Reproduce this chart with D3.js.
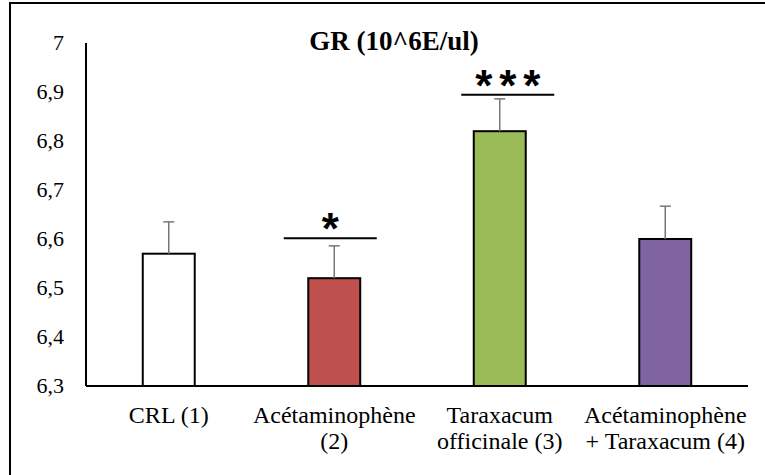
<!DOCTYPE html>
<html>
<head>
<meta charset="utf-8">
<script src="https://cdn.jsdelivr.net/npm/d3@7"></script>
<style>
  body { margin: 0; background: #fff; }
</style>
</head>
<body>
<div id="chart"></div>
<script>
const categories = [["CRL (1)"], ["Acétaminophène", "(2)"], ["Taraxacum", "officinale (3)"], ["Acétaminophène", "+ Taraxacum (4)"]];
const values = [6.57, 6.52, 6.82, 6.60];
const errors = [0.065, 0.066, 0.066, 0.067];
const colors = ["#ffffff", "#c0504d", "#9bbb59", "#8064a2"];
const yTicks = [6.3, 6.4, 6.5, 6.6, 6.7, 6.8, 6.9, 7];
const signif = [0, 1, 3, 0]; // number of stars over each bar
const title = "GR (10^6E/ul)";

// hand placement of the significance marks, as in the original
const sigShift = [null, { dx: -4, dy: -7.5 }, { dx: 8, dy: -4 }, null];

const width = 765, height = 475;
const svg = d3.select("#chart").append("svg")
  .attr("width", width).attr("height", height)
  .attr("font-family", "Liberation Serif");

// outer frame (right/bottom edges fall outside the picture)
svg.append("rect")
  .attr("x", 10).attr("y", 3)
  .attr("width", 770).attr("height", 490)
  .attr("fill", "none").attr("stroke", "#000").attr("stroke-width", 2);

const x = d3.scaleBand().domain(d3.range(categories.length)).range([86, 748]).paddingInner(0.686).paddingOuter(0.343);
const y = d3.scaleLinear().domain([6.3, 7]).range([386, 43]);
const cx = i => x(i) + x.bandwidth() / 2;

// y axis
svg.append("line").attr("x1", 86).attr("x2", 86).attr("y1", y(7)).attr("y2", y(6.3))
  .attr("stroke", "#000").attr("stroke-width", 2);
svg.selectAll(".ytick").data(yTicks).join("text")
  .attr("x", 64).attr("y", d => y(d)).attr("dy", "0.34em")
  .attr("text-anchor", "end").attr("font-size", 22)
  .attr("font-family", "Liberation Serif")
  .text(d => String(d).replace(".", ","));

// bars
svg.selectAll(".bar").data(values).join("rect")
  .attr("x", (d, i) => x(i)).attr("width", x.bandwidth())
  .attr("y", d => y(d)).attr("height", d => y(6.3) - y(d))
  .attr("fill", (d, i) => colors[i]).attr("stroke", "#000").attr("stroke-width", 2);

// error bars (upper only)
const eb = svg.selectAll(".err").data(values).join("g");
eb.append("line")
  .attr("x1", (d, i) => cx(i)).attr("x2", (d, i) => cx(i))
  .attr("y1", d => y(d)).attr("y2", (d, i) => y(d + errors[i]))
  .attr("stroke", "#777").attr("stroke-width", 1.5);
eb.append("line")
  .attr("x1", (d, i) => cx(i) - 5.5).attr("x2", (d, i) => cx(i) + 5.5)
  .attr("y1", (d, i) => y(d + errors[i])).attr("y2", (d, i) => y(d + errors[i]))
  .attr("stroke", "#777").attr("stroke-width", 1.5);

// x axis
svg.append("line").attr("x1", 86).attr("x2", 748).attr("y1", y(6.3)).attr("y2", y(6.3))
  .attr("stroke", "#000").attr("stroke-width", 2);
categories.forEach((lines, i) => {
  svg.append("text")
    .attr("text-anchor", "middle").attr("font-size", 24)
    .attr("font-family", "Liberation Serif")
    .selectAll("tspan").data(lines).join("tspan")
    .attr("x", cx(i))
    .attr("y", (d, j) => 423 + j * 26)
    .text(d => d);
});

// significance marks
signif.forEach((n, i) => {
  if (!n) return;
  const sx = cx(i) + sigShift[i].dx;
  const ly = y(values[i] + errors[i]) + sigShift[i].dy;
  svg.append("line").attr("x1", sx - 46.5).attr("x2", sx + 46.5).attr("y1", ly).attr("y2", ly)
    .attr("stroke", "#000").attr("stroke-width", 2);
  svg.selectAll(null).data(d3.range(n)).join("text")
    .attr("x", k => sx + (k - (n - 1) / 2) * 24)
    .attr("y", ly + 6)
    .attr("text-anchor", "middle")
    .attr("font-family", "Liberation Sans")
    .attr("font-weight", "bold").attr("font-size", 44)
    .text("*");
});

// title
svg.append("text").attr("x", 394).attr("y", 50)
  .attr("text-anchor", "middle").attr("font-size", 27).attr("font-weight", "bold")
  .attr("font-family", "Liberation Serif")
  .text(title);
</script>
</body>
</html>
